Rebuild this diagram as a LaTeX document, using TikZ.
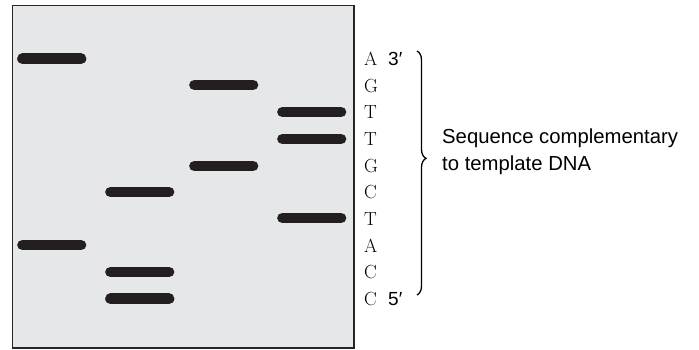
\documentclass[tikz,border=0pt]{standalone}
\usepackage{fontspec}
\newfontfamily\labelfont{Liberation Sans}
\usetikzlibrary{decorations.pathreplacing}
\definecolor{gelgray}{HTML}{E6E7E9}
\definecolor{bandblack}{HTML}{231F20}

\tikzset{
  band/.style={line width=10.7pt, line cap=round, color=bandblack},
  base/.style={anchor=base west, inner sep=0pt, font=\fontsize{19}{19}\selectfont},
  prime/.style={anchor=base west, inner sep=0pt, font=\labelfont\fontsize{19}{19}\selectfont},
}

\begin{document}
\begin{tikzpicture}[x=1pt,y=-1pt]
  \useasboundingbox (0,0) rectangle (699,350);
  % gel
  \draw[fill=gelgray, draw=black!85, line width=1.2pt] (12.7,5.7) rectangle (354,348);
  % bands, lane by lane
  \foreach \y in {58.7,245} \draw[band] (22.5,\y) -- (81,\y);
  \foreach \y in {192,272,298.7} \draw[band] (110.5,\y) -- (169,\y);
  \foreach \y in {85,166} \draw[band] (194.5,\y) -- (253,\y);
  \foreach \y in {112,139,218} \draw[band] (282.5,\y) -- (341,\y);
  % sequence read off the gel
  \foreach \b [count=\i] in {A,G,T,T,G,C,T,A,C,C}
    \node[base] (b\i) at (364,{58.7+26.67*(\i-1)+6.7}) {\b};
  \node[prime] (top) at (388,65.4) {3′};
  \node[prime] (bot) at (388,305.4) {5′};
  \draw[line width=1.3pt, decorate, decoration={brace, amplitude=9pt, aspect=0.44}]
    (417,51) -- (417,295);
  \node[anchor=base west, inner sep=0pt, align=left,
        font=\labelfont\fontsize{20.3}{27}\selectfont] (seq) at (442,171)
    {Sequence complementary\\to template DNA};
\end{tikzpicture}
\end{document}
